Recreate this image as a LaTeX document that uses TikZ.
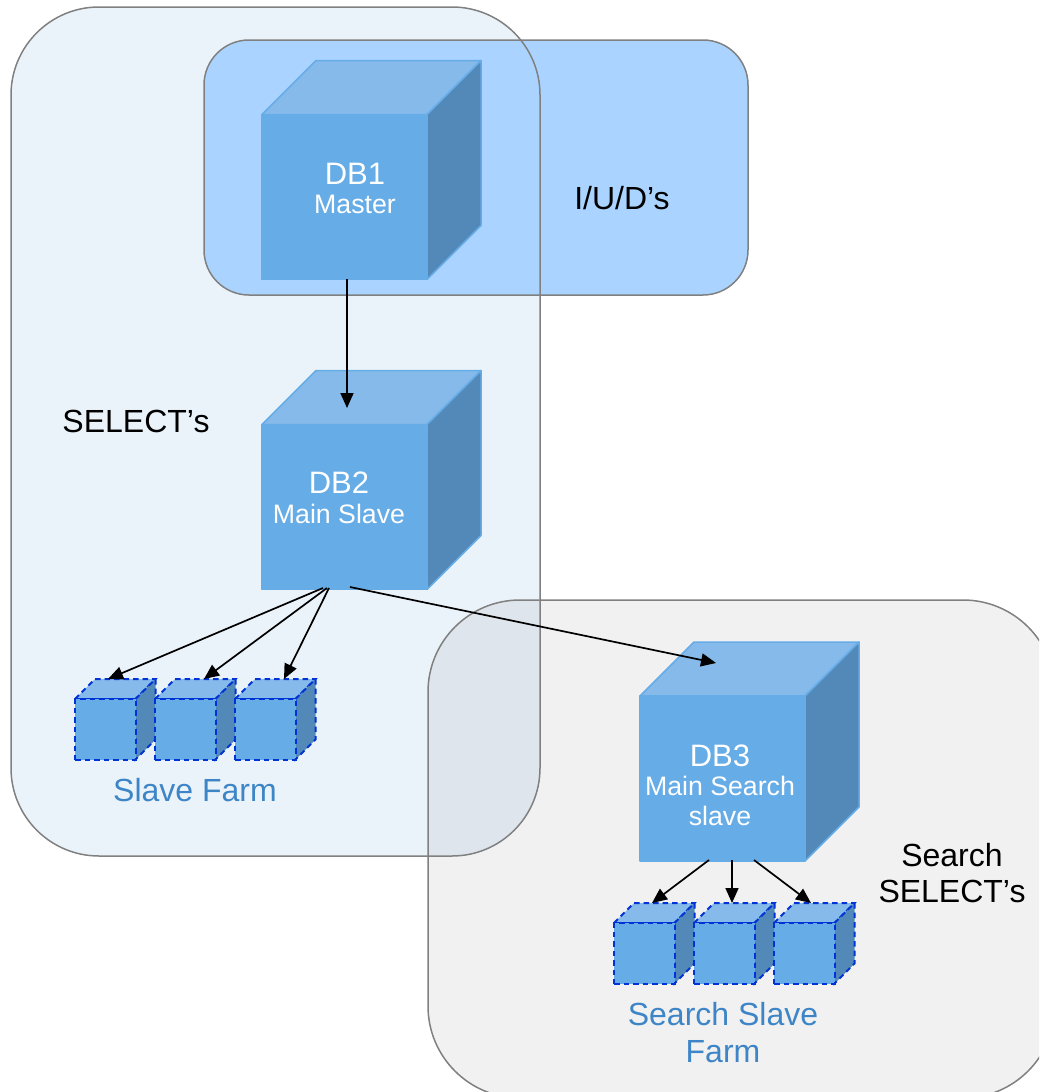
\documentclass[tikz,border=0pt]{standalone}
\usepackage{fontspec}
\setmainfont{Liberation Sans}
\usetikzlibrary{arrows.meta}
\definecolor{frontblue}{HTML}{66ACE6}
\definecolor{topblue}{HTML}{85BAEA}
\definecolor{sideblue}{HTML}{5389B8}
\definecolor{dashblue}{HTML}{0033D6}
\definecolor{farmblue}{HTML}{3D85C6}
\definecolor{panelline}{HTML}{808080}
\tikzset{x=1pt, y=-1pt,
  every node/.style={inner sep=0pt, outer sep=0pt, align=center},
  panel/.style={draw=panelline, line width=1.5pt},
  bigcube/.style={draw=frontblue, line width=1.5pt, line join=round},
  farmcube/.style={draw=dashblue, line width=2pt, dash pattern=on 5.5pt off 4pt},
  cubelabel/.style={white, font=\fontsize{26.7}{29.5}\selectfont},
  outlabel/.style={black, font=\fontsize{32}{36.5}\selectfont},
  farmlabel/.style={farmblue, font=\fontsize{32}{37}\selectfont},
  link/.style={black, line width=1.7pt, -{Triangle[length=15pt,width=13pt]}}}
% #1 name, #2 left, #3 top of front, #4 width and height, #5 depth, #6 style
\newcommand{\dbcube}[6]{
  \fill[topblue, #6] (#2,#3) -- ++(#5,-#5) -- ++(#4,0) -- ++(-#5,#5) -- cycle;
  \fill[sideblue, #6] (#2+#4,#3) -- ++(#5,-#5) -- ++(0,#4) -- ++(-#5,#5) -- cycle;
  \node[fill=frontblue, #6, minimum size=#4, anchor=north west] (#1) at (#2,#3) {};
}
\begin{document}
\begin{tikzpicture}
  \useasboundingbox (0,0) rectangle (1039,1092);
  \clip (0,0) rectangle (1039,1092);
  % panels
  \fill[fill={rgb,255:red,235;green,243;blue,250}, rounded corners=88pt] (11,7) rectangle (540,856);
  \draw[panel, fill=black, fill opacity=.055, rounded corners=92pt] (428,600) rectangle (1055,1098);
  \draw[panel, fill={rgb,255:red,170;green,212;blue,255}, rounded corners=45pt] (204,40) rectangle (748,295);
  \draw[panel, rounded corners=88pt] (11,7) rectangle (540,856);
  % cubes
  \dbcube{db1}{262}{114.5}{165}{54}{bigcube}
  \dbcube{db2}{262}{424.5}{165}{54}{bigcube}
  \dbcube{db3}{640}{696}{165}{54}{bigcube}
  \foreach \n/\x in {a/75,b/155,c/235} {
    \dbcube{farm\n}{\x}{699}{60.5}{20}{farmcube}
  }
  \foreach \n/\x in {a/614,b/694,c/774} {
    \dbcube{search\n}{\x}{923}{60.5}{20}{farmcube}
  }
  % labels
  \node[cubelabel] (db1label) at (355,188.5) {\fontsize{31}{30}\selectfont DB1\\Master};
  \node[cubelabel] (db2label) at (339,498) {\fontsize{31}{30}\selectfont DB2\\Main Slave};
  \node[cubelabel] (db3label) at (720,785) {\fontsize{31}{30}\selectfont DB3\\Main Search\\slave};
  \node[outlabel] (iudlabel) at (622,198) {I/U/D’s};
  \node[outlabel] (selectlabel) at (136,421) {SELECT’s};
  \node[outlabel] (searchlabel) at (952,873) {Search\\SELECT’s};
  \node[farmlabel] (farmlabel) at (195,790) {Slave Farm};
  \node[farmlabel] (searchfarmlabel) at (723,1033) {Search Slave\\Farm};
  % connector ends
  \coordinate (m1) at (347,279);
  \coordinate (s1) at (347,408);
  \coordinate (m2a) at (323,588);
  \coordinate (m2b) at (327,588);
  \coordinate (m2c) at (329,588);
  \coordinate (m2d) at (350,587);
  \coordinate (fa) at (108,679);
  \coordinate (fb) at (204,679);
  \coordinate (fc) at (284,679);
  \coordinate (s3) at (716,663);
  \coordinate (m3a) at (709,860);
  \coordinate (m3b) at (732,860);
  \coordinate (m3c) at (754,860);
  \coordinate (sa) at (652,903);
  \coordinate (sb) at (732,903);
  \coordinate (sc) at (811,903);
  \draw[link] (m1) -- (s1);
  \draw[link] (m2a) -- (fa);
  \draw[link] (m2b) -- (fb);
  \draw[link] (m2c) -- (fc);
  \draw[link] (m2d) -- (s3);
  \draw[link] (m3a) -- (sa);
  \draw[link] (m3b) -- (sb);
  \draw[link] (m3c) -- (sc);
\end{tikzpicture}
\end{document}
